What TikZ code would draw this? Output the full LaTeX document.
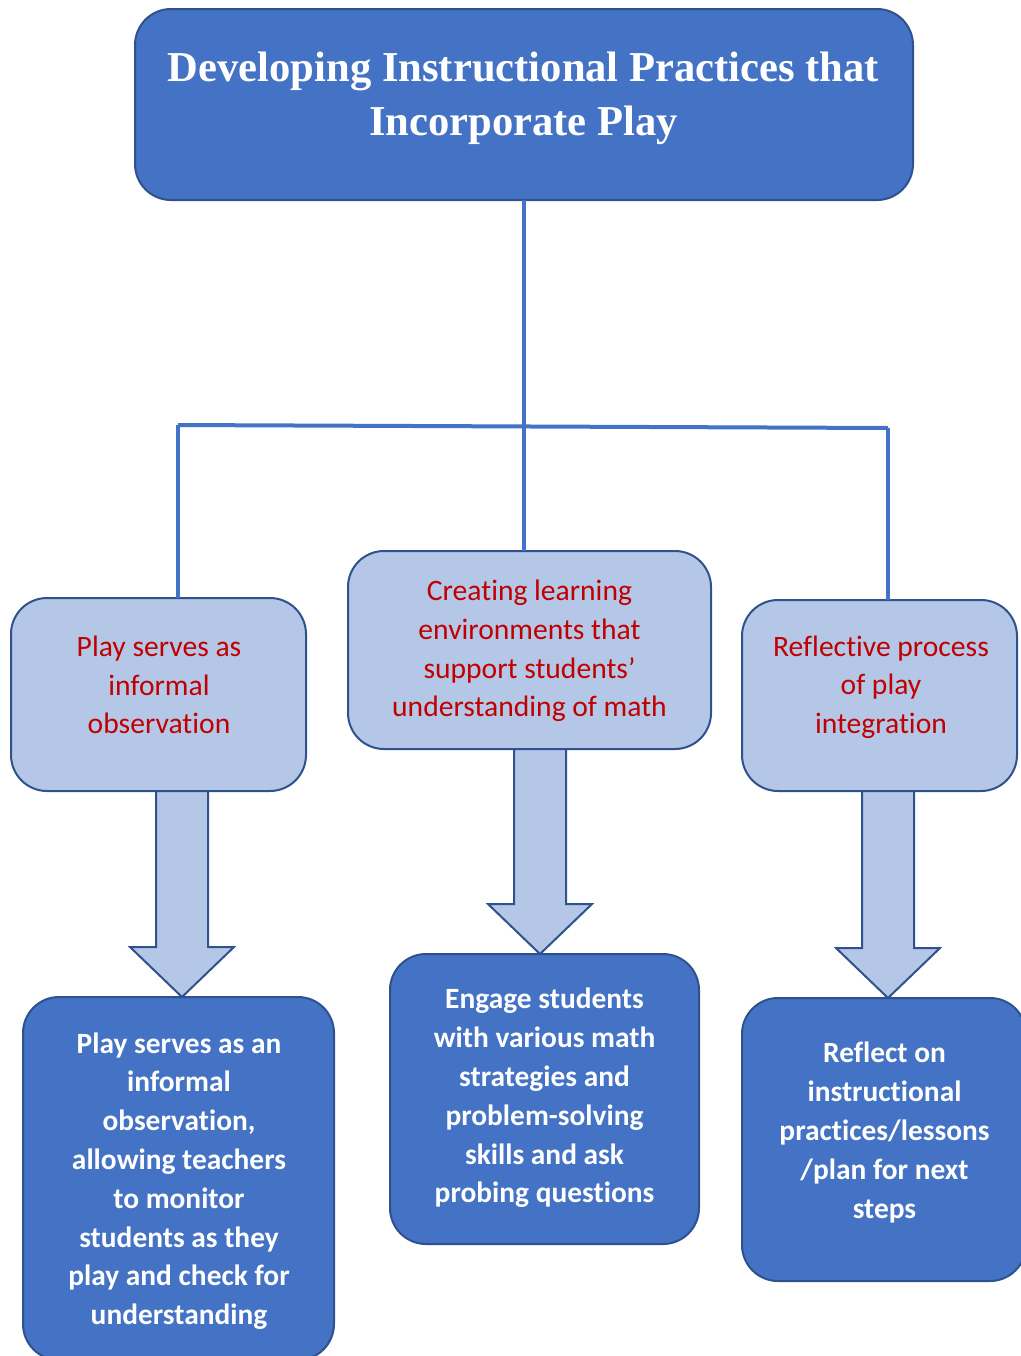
\documentclass[tikz,border=0pt]{standalone}
\usepackage{fontspec}
\setmainfont{Carlito}[Ligatures=NoCommon]
\newfontfamily\titlefont{Liberation Serif}
\usetikzlibrary{shapes,arrows,positioning,calc}

\definecolor{boxblue}{HTML}{4472C4}
\definecolor{paleblue}{HTML}{B4C7E7}
\definecolor{edgeblue}{HTML}{2F528F}
\definecolor{textred}{HTML}{C00000}

\tikzset{
  stepbase/.style={draw=edgeblue, line width=1pt, rounded corners=18pt, inner sep=0pt, outer sep=0pt},
  topbox/.style={stepbase, fill=boxblue},
  midbox/.style={stepbase, fill=paleblue},
  lowbox/.style={stepbase, fill=boxblue},
  toptext/.style={align=center, inner sep=0pt, text=white, font=\titlefont\bfseries\fontsize{21.3}{27}\selectfont},
  midtext/.style={align=center, inner sep=0pt, text=textred, font=\fontsize{14.8}{19.3}\selectfont},
  lowtext/.style={align=center, inner sep=0pt, text=white, font=\bfseries\fontsize{14.7}{19.4}\selectfont},
  treeline/.style={draw=boxblue, line width=2pt},
  blockarrow/.style={draw=edgeblue, fill=paleblue, line width=1pt, line join=miter},
}

% hollow down arrow from #1 (top) to #2 (tip)
\newcommand{\downblock}[2]{%
  \draw[blockarrow] let \p1=(#1), \p2=(#2) in
    (\x2-13pt,\y1) -- (\x2-13pt,\y2+25pt) -- (\x2-26pt,\y2+25pt) -- (\x2,\y2)
    -- (\x2+26pt,\y2+25pt) -- (\x2+13pt,\y2+25pt) -- (\x2+13pt,\y1) -- cycle;
}

\begin{document}
\begin{tikzpicture}[x=0.5pt, y=-0.5pt]
    \useasboundingbox (0,0) rectangle (1021,1356);
    \clip (0,0) rectangle (1021,1356);

    % Title
    \node[topbox, minimum width=389pt, minimum height=95.5pt] (title) at (524,104.5) {};
    \node[toptext] (titletxt) at (523.5,98.5) {Developing Instructional Practices that\\Incorporate Play};

    % Middle row
    \node[midbox, minimum width=147.5pt, minimum height=96.5pt] (m1) at (158.5,694.5) {};
    \node[midtext] (m1txt) at (159,685) {Play serves as\\informal\\observation};
    \node[midbox, minimum width=181.5pt, minimum height=99pt] (m2) at (529.5,650) {};
    \node[midtext] (m2txt) at (529.5,651) {Creating learning\\environments that\\support students’\\understanding of math};
    \node[midbox, minimum width=137.5pt, minimum height=95.5pt] (m3) at (879.5,695.5) {};
    \node[midtext] (m3txt) at (881,687) {Reflective process\\of play\\integration};

    % Bottom row
    \node[lowbox, minimum width=155.5pt, minimum height=181.5pt] (b1) at (178.5,1178.5) {};
    \node[lowtext] (b1txt) at (179,1181) {Play serves as an\\informal\\observation,\\allowing teachers\\to monitor\\students as they\\play and check for\\understanding};
    \node[lowbox, minimum width=154.5pt, minimum height=145pt] (b2) at (544.5,1099) {};
    \node[lowtext] (b2txt) at (544.5,1098) {Engage students\\with various math\\strategies and\\problem-solving\\skills and ask\\probing questions};
    \node[lowbox, minimum width=142pt, minimum height=141.5pt] (b3) at (884,1139.5) {};
    \node[lowtext] (b3txt) at (884.5,1132.5) {Reflect on\\instructional\\practices/lessons\\/plan for next\\steps};

    % Tree lines
    \coordinate (j1) at (178,425);
    \coordinate (j3) at (888,428);
    \draw[treeline] (title.south) -- (title.south |- m2.north);
    \draw[treeline] (j1) -- (j3);
    \draw[treeline] (j1) -- (j1 |- m1.north);
    \draw[treeline] (j3) -- (j3 |- m3.north);

    % Block arrows
    \coordinate (tip1) at ($(b1.north)+(3.5,0)$);
    \coordinate (tip2) at ($(b2.north)+(-4.5,0)$);
    \coordinate (tip3) at ($(b3.north)+(4,0)$);
    \downblock{tip1 |- m1.south}{tip1}
    \downblock{tip2 |- m2.south}{tip2}
    \downblock{tip3 |- m3.south}{tip3}

\end{tikzpicture}
\end{document}
